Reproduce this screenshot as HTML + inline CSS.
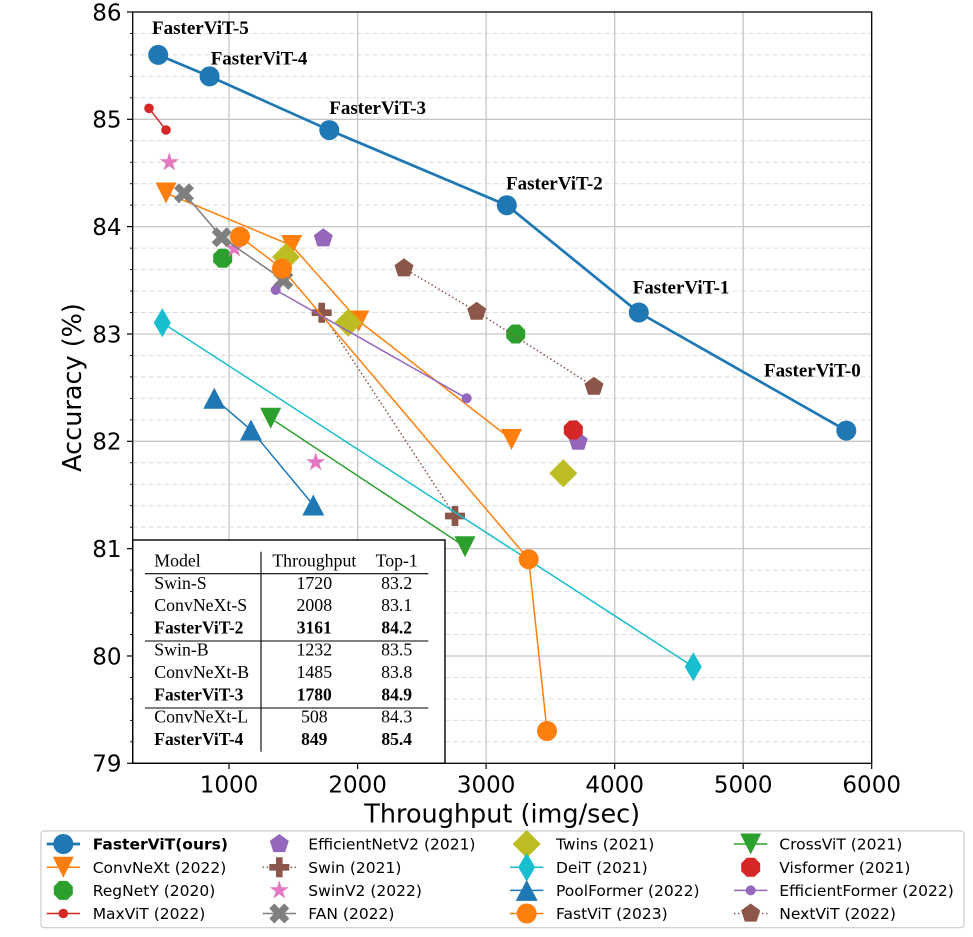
<!DOCTYPE html>
<html><head><meta charset="utf-8">
<style>
html,body{margin:0;padding:0;background:#fff;}
svg{display:block;}
.tk{font-family:"DejaVu Sans","Liberation Sans",sans-serif;font-size:23px;fill:#000;}
.lab{font-family:"DejaVu Sans","Liberation Sans",sans-serif;font-size:25.5px;fill:#000;}
.ann{font-family:"Liberation Serif","DejaVu Serif",serif;font-size:19px;font-weight:bold;fill:#000;}
.tb{font-family:"Liberation Serif","DejaVu Serif",serif;font-size:17.8px;fill:#000;}
.tbb{font-family:"Liberation Serif","DejaVu Serif",serif;font-size:17.5px;font-weight:bold;fill:#000;}
.lg{font-family:"DejaVu Sans","Liberation Sans",sans-serif;font-size:15.5px;fill:#000;}
</style></head>
<body>
<svg width="973" height="937" viewBox="0 0 973 937" xmlns="http://www.w3.org/2000/svg">
<rect x="0" y="0" width="973" height="937" fill="#fff"/>

<!-- minor y grid (dashed) -->
<g stroke="#dcdcdc" stroke-width="1" stroke-dasharray="5,3" fill="none">
<line x1="132.7" x2="871.7" y1="741.83" y2="741.83"/>
<line x1="132.7" x2="871.7" y1="720.37" y2="720.37"/>
<line x1="132.7" x2="871.7" y1="698.9" y2="698.9"/>
<line x1="132.7" x2="871.7" y1="677.44" y2="677.44"/>
<line x1="132.7" x2="871.7" y1="634.5" y2="634.5"/>
<line x1="132.7" x2="871.7" y1="613.04" y2="613.04"/>
<line x1="132.7" x2="871.7" y1="591.57" y2="591.57"/>
<line x1="132.7" x2="871.7" y1="570.11" y2="570.11"/>
<line x1="132.7" x2="871.7" y1="527.17" y2="527.17"/>
<line x1="132.7" x2="871.7" y1="505.71" y2="505.71"/>
<line x1="132.7" x2="871.7" y1="484.24" y2="484.24"/>
<line x1="132.7" x2="871.7" y1="462.78" y2="462.78"/>
<line x1="132.7" x2="871.7" y1="419.84" y2="419.84"/>
<line x1="132.7" x2="871.7" y1="398.38" y2="398.38"/>
<line x1="132.7" x2="871.7" y1="376.91" y2="376.91"/>
<line x1="132.7" x2="871.7" y1="355.45" y2="355.45"/>
<line x1="132.7" x2="871.7" y1="312.51" y2="312.51"/>
<line x1="132.7" x2="871.7" y1="291.05" y2="291.05"/>
<line x1="132.7" x2="871.7" y1="269.58" y2="269.58"/>
<line x1="132.7" x2="871.7" y1="248.12" y2="248.12"/>
<line x1="132.7" x2="871.7" y1="205.18" y2="205.18"/>
<line x1="132.7" x2="871.7" y1="183.72" y2="183.72"/>
<line x1="132.7" x2="871.7" y1="162.25" y2="162.25"/>
<line x1="132.7" x2="871.7" y1="140.79" y2="140.79"/>
<line x1="132.7" x2="871.7" y1="97.85" y2="97.85"/>
<line x1="132.7" x2="871.7" y1="76.39" y2="76.39"/>
<line x1="132.7" x2="871.7" y1="54.92" y2="54.92"/>
<line x1="132.7" x2="871.7" y1="33.46" y2="33.46"/>
</g>
<!-- major grid -->
<g stroke="#c6c6c6" stroke-width="1.3" fill="none">
<line x1="132.7" x2="871.7" y1="655.97" y2="655.97"/>
<line x1="132.7" x2="871.7" y1="548.64" y2="548.64"/>
<line x1="132.7" x2="871.7" y1="441.31" y2="441.31"/>
<line x1="132.7" x2="871.7" y1="333.98" y2="333.98"/>
<line x1="132.7" x2="871.7" y1="226.65" y2="226.65"/>
<line x1="132.7" x2="871.7" y1="119.32" y2="119.32"/>
<line x1="229.0" x2="229.0" y1="12" y2="763.3"/>
<line x1="357.6" x2="357.6" y1="12" y2="763.3"/>
<line x1="486.1" x2="486.1" y1="12" y2="763.3"/>
<line x1="614.7" x2="614.7" y1="12" y2="763.3"/>
<line x1="743.2" x2="743.2" y1="12" y2="763.3"/>
</g>

<!-- ===== Series ===== -->
<!-- FasterViT -->
<g>
<polyline points="158.2,54.9 209.6,76.4 329.3,130.1 506.8,205.2 638.8,312.5 846.3,430.6" fill="none" stroke="#1f77b4" stroke-width="2.7" stroke-linejoin="round"/>
<g fill="#1f77b4">
<circle cx="158.2" cy="54.9" r="10"/><circle cx="209.6" cy="76.4" r="10"/><circle cx="329.3" cy="130.1" r="10"/>
<circle cx="506.8" cy="205.2" r="10"/><circle cx="638.8" cy="312.5" r="10"/><circle cx="846.3" cy="430.6" r="10"/>
</g>
</g>
<!-- ConvNeXt -->
<g>
<polyline points="166,193 291.7,245.5 358.8,321 511.5,439.5" fill="none" stroke="#ff7f0e" stroke-width="1.5"/>
<g fill="#ff7f0e">
<polygon transform="translate(166,193)" points="0,10.5 -10.5,-10.5 10.5,-10.5"/>
<polygon transform="translate(291.7,245.5)" points="0,10.5 -10.5,-10.5 10.5,-10.5"/>
<polygon transform="translate(358.8,321)" points="0,10.5 -10.5,-10.5 10.5,-10.5"/>
<polygon transform="translate(511.5,439.5)" points="0,10.5 -10.5,-10.5 10.5,-10.5"/>
</g>
</g>
<!-- RegNetY -->
<g fill="#2ca02c">
<polygon transform="translate(222.7,258.3)" points="9.5,3.93 3.93,9.5 -3.93,9.5 -9.5,3.93 -9.5,-3.93 -3.93,-9.5 3.93,-9.5 9.5,-3.93"/>
<polygon transform="translate(515.7,334)" points="9.5,3.93 3.93,9.5 -3.93,9.5 -9.5,3.93 -9.5,-3.93 -3.93,-9.5 3.93,-9.5 9.5,-3.93"/>
</g>
<!-- MaxViT -->
<g>
<line x1="149" y1="108.3" x2="166" y2="130" stroke="#d62728" stroke-width="1.5"/>
<circle cx="149" cy="108.3" r="4.8" fill="#d62728"/><circle cx="166" cy="130" r="4.8" fill="#d62728"/>
</g>
<!-- EfficientNetV2 -->
<g fill="#9467bd">
<polygon transform="translate(323.3,238.3)" points="0,-10 9.51,-3.09 5.88,8.09 -5.88,8.09 -9.51,-3.09"/>
<polygon transform="translate(578.3,441.7)" points="0,-10 9.51,-3.09 5.88,8.09 -5.88,8.09 -9.51,-3.09"/>
</g>
<!-- Swin -->
<g>
<polyline points="321.7,312.7 455,516" fill="none" stroke="#8c564b" stroke-width="1.5" stroke-dasharray="1.5,2.5"/>
<g fill="#8c564b">
<polygon transform="translate(321.7,312.7)" points="-3.33,-10 3.33,-10 3.33,-3.33 10,-3.33 10,3.33 3.33,3.33 3.33,10 -3.33,10 -3.33,3.33 -10,3.33 -10,-3.33 -3.33,-3.33"/>
<polygon transform="translate(455,516)" points="-3.33,-10 3.33,-10 3.33,-3.33 10,-3.33 10,3.33 3.33,3.33 3.33,10 -3.33,10 -3.33,3.33 -10,3.33 -10,-3.33 -3.33,-3.33"/>
</g>
</g>
<!-- SwinV2 -->
<g fill="#e377c2">
<polygon transform="translate(169.3,162.3)" points="0,-10 2.245,-3.09 9.511,-3.09 3.633,1.18 5.878,8.09 0,3.82 -5.878,8.09 -3.633,1.18 -9.511,-3.09 -2.245,-3.09"/>
<polygon transform="translate(234.3,248.5)" points="0,-10 2.245,-3.09 9.511,-3.09 3.633,1.18 5.878,8.09 0,3.82 -5.878,8.09 -3.633,1.18 -9.511,-3.09 -2.245,-3.09"/>
<polygon transform="translate(315.7,462.3)" points="0,-10 2.245,-3.09 9.511,-3.09 3.633,1.18 5.878,8.09 0,3.82 -5.878,8.09 -3.633,1.18 -9.511,-3.09 -2.245,-3.09"/>
</g>
<!-- FAN -->
<g>
<polyline points="184,193.3 221.7,237.3 283.3,280" fill="none" stroke="#7f7f7f" stroke-width="1.5"/>
<g fill="#7f7f7f">
<polygon transform="translate(184,193.3)" points="0,-5 5,-10 10,-5 5,0 10,5 5,10 0,5 -5,10 -10,5 -5,0 -10,-5 -5,-10"/>
<polygon transform="translate(221.7,237.3)" points="0,-5 5,-10 10,-5 5,0 10,5 5,10 0,5 -5,10 -10,5 -5,0 -10,-5 -5,-10"/>
<polygon transform="translate(283.3,280)" points="0,-5 5,-10 10,-5 5,0 10,5 5,10 0,5 -5,10 -10,5 -5,0 -10,-5 -5,-10"/>
</g>
</g>
<!-- Twins -->
<g fill="#bcbd22">
<polygon transform="translate(286,257)" points="0,-14 14,0 0,14 -14,0"/>
<polygon transform="translate(348.3,322.7)" points="0,-14 14,0 0,14 -14,0"/>
<polygon transform="translate(563.3,473.3)" points="0,-14 14,0 0,14 -14,0"/>
</g>
<!-- DeiT -->
<g>
<line x1="162.3" y1="322.7" x2="693.3" y2="666.7" stroke="#17becf" stroke-width="1.5"/>
<g fill="#17becf">
<polygon transform="translate(162.3,322.7)" points="0,-14.5 8.5,0 0,14.5 -8.5,0"/>
<polygon transform="translate(693.3,666.7)" points="0,-14.5 8.5,0 0,14.5 -8.5,0"/>
</g>
</g>
<!-- PoolFormer -->
<g>
<polyline points="214.3,398.3 251,430 313.3,505" fill="none" stroke="#1f77b4" stroke-width="1.5"/>
<g fill="#1f77b4">
<polygon transform="translate(214.3,398.3)" points="0,-10.5 11,10.5 -11,10.5"/>
<polygon transform="translate(251,430)" points="0,-10.5 11,10.5 -11,10.5"/>
<polygon transform="translate(313.3,505)" points="0,-10.5 11,10.5 -11,10.5"/>
</g>
</g>
<!-- FastViT -->
<g>
<polyline points="240,236.7 282,268.5 528.7,559.3 547,731" fill="none" stroke="#ff7f0e" stroke-width="1.5"/>
<g fill="#ff7f0e">
<circle cx="240" cy="236.7" r="10"/><circle cx="282" cy="268.5" r="10"/>
<circle cx="528.7" cy="559.3" r="10"/><circle cx="547" cy="731" r="10"/>
</g>
</g>
<!-- CrossViT -->
<g>
<line x1="270.7" y1="418.3" x2="465" y2="546.7" stroke="#2ca02c" stroke-width="1.5"/>
<g fill="#2ca02c">
<polygon transform="translate(270.7,418.3)" points="0,10.5 -10.5,-10.5 10.5,-10.5"/>
<polygon transform="translate(465,546.7)" points="0,10.5 -10.5,-10.5 10.5,-10.5"/>
</g>
</g>
<!-- Visformer -->
<polygon fill="#d62728" transform="translate(573.3,430)" points="9.5,3.93 3.93,9.5 -3.93,9.5 -9.5,3.93 -9.5,-3.93 -3.93,-9.5 3.93,-9.5 9.5,-3.93"/>
<!-- EfficientFormer -->
<g>
<line x1="275.7" y1="290" x2="466.7" y2="398.3" stroke="#9467bd" stroke-width="1.5"/>
<circle cx="275.7" cy="290" r="5" fill="#9467bd"/><circle cx="466.7" cy="398.3" r="5" fill="#9467bd"/>
</g>
<!-- NextViT -->
<g>
<polyline points="404,268.3 476.7,311.7 594,386.7" fill="none" stroke="#8c564b" stroke-width="1.5" stroke-dasharray="1.5,2.5"/>
<g fill="#8c564b">
<polygon transform="translate(404,268.3)" points="0,-10 9.51,-3.09 5.88,8.09 -5.88,8.09 -9.51,-3.09"/>
<polygon transform="translate(476.7,311.7)" points="0,-10 9.51,-3.09 5.88,8.09 -5.88,8.09 -9.51,-3.09"/>
<polygon transform="translate(594,386.7)" points="0,-10 9.51,-3.09 5.88,8.09 -5.88,8.09 -9.51,-3.09"/>
</g>
</g>

<!-- annotations -->
<text class="ann" x="152" y="34">FasterViT-5</text>
<text class="ann" x="210.7" y="64.3">FasterViT-4</text>
<text class="ann" x="329.3" y="114">FasterViT-3</text>
<text class="ann" x="506" y="189.3">FasterViT-2</text>
<text class="ann" x="632.7" y="293.3">FasterViT-1</text>
<text class="ann" x="764" y="376.7">FasterViT-0</text>

<!-- inset table -->
<rect x="132.7" y="540" width="312.3" height="223.3" fill="#fff" stroke="#000" stroke-width="1.4"/>
<g stroke="#000" stroke-width="1.1">
<line x1="145" x2="428.3" y1="573.7" y2="573.7"/>
<line x1="145" x2="428.3" y1="641" y2="641"/>
<line x1="145" x2="428.3" y1="708" y2="708"/>
<line x1="261" x2="261" y1="551.7" y2="751.7"/>
</g>
<text class="tb" x="154.3" y="566.5">Model</text>
<text class="tb" x="314.3" y="566.5" text-anchor="middle">Throughput</text>
<text class="tb" x="396.7" y="566.5" text-anchor="middle">Top-1</text>

<text class="tb" x="154.3" y="588.8">Swin-S</text>
<text class="tb" x="314.3" y="588.8" text-anchor="middle">1720</text>
<text class="tb" x="396.7" y="588.8" text-anchor="middle">83.2</text>
<text class="tb" x="154.3" y="611.1">ConvNeXt-S</text>
<text class="tb" x="314.3" y="611.1" text-anchor="middle">2008</text>
<text class="tb" x="396.7" y="611.1" text-anchor="middle">83.1</text>
<text class="tbb" x="154.3" y="633.4">FasterViT-2</text>
<text class="tbb" x="314.3" y="633.4" text-anchor="middle">3161</text>
<text class="tbb" x="396.7" y="633.4" text-anchor="middle">84.2</text>

<text class="tb" x="154.3" y="655.7">Swin-B</text>
<text class="tb" x="314.3" y="655.7" text-anchor="middle">1232</text>
<text class="tb" x="396.7" y="655.7" text-anchor="middle">83.5</text>
<text class="tb" x="154.3" y="678">ConvNeXt-B</text>
<text class="tb" x="314.3" y="678" text-anchor="middle">1485</text>
<text class="tb" x="396.7" y="678" text-anchor="middle">83.8</text>
<text class="tbb" x="154.3" y="700.3">FasterViT-3</text>
<text class="tbb" x="314.3" y="700.3" text-anchor="middle">1780</text>
<text class="tbb" x="396.7" y="700.3" text-anchor="middle">84.9</text>

<text class="tb" x="154.3" y="722.6">ConvNeXt-L</text>
<text class="tb" x="314.3" y="722.6" text-anchor="middle">508</text>
<text class="tb" x="396.7" y="722.6" text-anchor="middle">84.3</text>
<text class="tbb" x="154.3" y="744.9">FasterViT-4</text>
<text class="tbb" x="314.3" y="744.9" text-anchor="middle">849</text>
<text class="tbb" x="396.7" y="744.9" text-anchor="middle">85.4</text>

<!-- spines -->
<rect x="132.7" y="12" width="739" height="751.3" fill="none" stroke="#000" stroke-width="1.3"/>

<!-- y ticks -->
<g stroke="#000" stroke-width="1.2">
<line x1="127" x2="132.7" y1="763.3" y2="763.3"/>
<line x1="127" x2="132.7" y1="655.97" y2="655.97"/>
<line x1="127" x2="132.7" y1="548.64" y2="548.64"/>
<line x1="127" x2="132.7" y1="441.31" y2="441.31"/>
<line x1="127" x2="132.7" y1="333.98" y2="333.98"/>
<line x1="127" x2="132.7" y1="226.65" y2="226.65"/>
<line x1="127" x2="132.7" y1="119.32" y2="119.32"/>
<line x1="127" x2="132.7" y1="12" y2="12"/>
</g>
<g stroke="#000" stroke-width="0.9">
<line x1="130" x2="132.7" y1="741.83" y2="741.83"/><line x1="130" x2="132.7" y1="720.37" y2="720.37"/><line x1="130" x2="132.7" y1="698.9" y2="698.9"/><line x1="130" x2="132.7" y1="677.44" y2="677.44"/>
<line x1="130" x2="132.7" y1="634.5" y2="634.5"/><line x1="130" x2="132.7" y1="613.04" y2="613.04"/><line x1="130" x2="132.7" y1="591.57" y2="591.57"/><line x1="130" x2="132.7" y1="570.11" y2="570.11"/>
<line x1="130" x2="132.7" y1="527.17" y2="527.17"/><line x1="130" x2="132.7" y1="505.71" y2="505.71"/><line x1="130" x2="132.7" y1="484.24" y2="484.24"/><line x1="130" x2="132.7" y1="462.78" y2="462.78"/>
<line x1="130" x2="132.7" y1="419.84" y2="419.84"/><line x1="130" x2="132.7" y1="398.38" y2="398.38"/><line x1="130" x2="132.7" y1="376.91" y2="376.91"/><line x1="130" x2="132.7" y1="355.45" y2="355.45"/>
<line x1="130" x2="132.7" y1="312.51" y2="312.51"/><line x1="130" x2="132.7" y1="291.05" y2="291.05"/><line x1="130" x2="132.7" y1="269.58" y2="269.58"/><line x1="130" x2="132.7" y1="248.12" y2="248.12"/>
<line x1="130" x2="132.7" y1="205.18" y2="205.18"/><line x1="130" x2="132.7" y1="183.72" y2="183.72"/><line x1="130" x2="132.7" y1="162.25" y2="162.25"/><line x1="130" x2="132.7" y1="140.79" y2="140.79"/>
<line x1="130" x2="132.7" y1="97.85" y2="97.85"/><line x1="130" x2="132.7" y1="76.39" y2="76.39"/><line x1="130" x2="132.7" y1="54.92" y2="54.92"/><line x1="130" x2="132.7" y1="33.46" y2="33.46"/>
</g>
<!-- x ticks -->
<g stroke="#000" stroke-width="1.2">
<line x1="229.0" x2="229.0" y1="763.3" y2="769"/>
<line x1="357.6" x2="357.6" y1="763.3" y2="769"/>
<line x1="486.1" x2="486.1" y1="763.3" y2="769"/>
<line x1="614.7" x2="614.7" y1="763.3" y2="769"/>
<line x1="743.2" x2="743.2" y1="763.3" y2="769"/>
<line x1="871.7" x2="871.7" y1="763.3" y2="769"/>
</g>

<!-- y tick labels -->
<text class="tk" x="121.5" y="771.7" text-anchor="end">79</text>
<text class="tk" x="121.5" y="664.4" text-anchor="end">80</text>
<text class="tk" x="121.5" y="557.0" text-anchor="end">81</text>
<text class="tk" x="121.5" y="449.7" text-anchor="end">82</text>
<text class="tk" x="121.5" y="342.4" text-anchor="end">83</text>
<text class="tk" x="121.5" y="235.1" text-anchor="end">84</text>
<text class="tk" x="121.5" y="127.7" text-anchor="end">85</text>
<text class="tk" x="121.5" y="20.4" text-anchor="end">86</text>
<!-- x tick labels -->
<text class="tk" x="229.0" y="792.5" text-anchor="middle">1000</text>
<text class="tk" x="357.6" y="792.5" text-anchor="middle">2000</text>
<text class="tk" x="486.1" y="792.5" text-anchor="middle">3000</text>
<text class="tk" x="614.7" y="792.5" text-anchor="middle">4000</text>
<text class="tk" x="743.2" y="792.5" text-anchor="middle">5000</text>
<text class="tk" x="871.7" y="792.5" text-anchor="middle">6000</text>

<!-- axis labels -->
<text class="lab" x="502.2" y="822.7" text-anchor="middle">Throughput (img/sec)</text>
<text class="lab" transform="translate(81,387.5) rotate(-90)" text-anchor="middle">Accuracy (%)</text>

<!-- legend -->
<rect x="41" y="831" width="923" height="96.7" rx="3" ry="3" fill="#fff" stroke="#cccccc" stroke-width="1.2"/>
<!-- col 1 -->
<line x1="46.7" x2="80" y1="844" y2="844" stroke="#1f77b4" stroke-width="2.7"/>
<circle cx="63.3" cy="844" r="10" fill="#1f77b4"/>
<text class="lg" x="92.7" y="849.5" font-weight="bold">FasterViT(ours)</text>

<line x1="46.7" x2="80" y1="867.3" y2="867.3" stroke="#ff7f0e" stroke-width="1.5"/>
<polygon transform="translate(63.3,867.3)" fill="#ff7f0e" points="0,10.5 -10.5,-10.5 10.5,-10.5"/>
<text class="lg" x="92.7" y="872.8">ConvNeXt (2022)</text>

<polygon transform="translate(63.3,890.4)" fill="#2ca02c" points="9.5,3.93 3.93,9.5 -3.93,9.5 -9.5,3.93 -9.5,-3.93 -3.93,-9.5 3.93,-9.5 9.5,-3.93"/>
<text class="lg" x="92.7" y="895.9">RegNetY (2020)</text>

<line x1="46.7" x2="80" y1="913.5" y2="913.5" stroke="#d62728" stroke-width="1.5"/>
<circle cx="63.3" cy="913.5" r="4.8" fill="#d62728"/>
<text class="lg" x="92.7" y="919">MaxViT (2022)</text>

<!-- col 2 -->
<polygon transform="translate(279.3,844)" fill="#9467bd" points="0,-10 9.51,-3.09 5.88,8.09 -5.88,8.09 -9.51,-3.09"/>
<text class="lg" x="308.3" y="849.5">EfficientNetV2 (2021)</text>

<line x1="262.6" x2="296" y1="867.3" y2="867.3" stroke="#8c564b" stroke-width="1.5" stroke-dasharray="1.5,2.5"/>
<polygon transform="translate(279.3,867.3)" fill="#8c564b" points="-3.33,-10 3.33,-10 3.33,-3.33 10,-3.33 10,3.33 3.33,3.33 3.33,10 -3.33,10 -3.33,3.33 -10,3.33 -10,-3.33 -3.33,-3.33"/>
<text class="lg" x="308.3" y="872.8">Swin (2021)</text>

<polygon transform="translate(279.3,890.4)" fill="#e377c2" points="0,-10 2.245,-3.09 9.511,-3.09 3.633,1.18 5.878,8.09 0,3.82 -5.878,8.09 -3.633,1.18 -9.511,-3.09 -2.245,-3.09"/>
<text class="lg" x="308.3" y="895.9">SwinV2 (2022)</text>

<line x1="262.6" x2="296" y1="913.5" y2="913.5" stroke="#7f7f7f" stroke-width="1.5"/>
<polygon transform="translate(279.3,913.5)" fill="#7f7f7f" points="0,-5 5,-10 10,-5 5,0 10,5 5,10 0,5 -5,10 -10,5 -5,0 -10,-5 -5,-10"/>
<text class="lg" x="308.3" y="919">FAN (2022)</text>

<!-- col 3 -->
<polygon transform="translate(526.7,844)" fill="#bcbd22" points="0,-14 14,0 0,14 -14,0"/>
<text class="lg" x="556" y="849.5">Twins (2021)</text>

<line x1="510" x2="543.4" y1="867.3" y2="867.3" stroke="#17becf" stroke-width="1.5"/>
<polygon transform="translate(526.7,867.3)" fill="#17becf" points="0,-14.5 8.5,0 0,14.5 -8.5,0"/>
<text class="lg" x="556" y="872.8">DeiT (2021)</text>

<line x1="510" x2="543.4" y1="890.4" y2="890.4" stroke="#1f77b4" stroke-width="1.5"/>
<polygon transform="translate(526.7,890.4)" fill="#1f77b4" points="0,-10.5 11,10.5 -11,10.5"/>
<text class="lg" x="556" y="895.9">PoolFormer (2022)</text>

<line x1="510" x2="543.4" y1="913.5" y2="913.5" stroke="#ff7f0e" stroke-width="1.5"/>
<circle cx="526.7" cy="913.5" r="10" fill="#ff7f0e"/>
<text class="lg" x="556" y="919">FastViT (2023)</text>

<!-- col 4 -->
<line x1="734" x2="767.4" y1="844" y2="844" stroke="#2ca02c" stroke-width="1.5"/>
<polygon transform="translate(750.7,844)" fill="#2ca02c" points="0,10.5 -10.5,-10.5 10.5,-10.5"/>
<text class="lg" x="779.3" y="849.5">CrossViT (2021)</text>

<polygon transform="translate(750.7,867.3)" fill="#d62728" points="9.5,3.93 3.93,9.5 -3.93,9.5 -9.5,3.93 -9.5,-3.93 -3.93,-9.5 3.93,-9.5 9.5,-3.93"/>
<text class="lg" x="779.3" y="872.8">Visformer (2021)</text>

<line x1="734" x2="767.4" y1="890.4" y2="890.4" stroke="#9467bd" stroke-width="1.5"/>
<circle cx="750.7" cy="890.4" r="5" fill="#9467bd"/>
<text class="lg" x="779.3" y="895.9">EfficientFormer (2022)</text>

<line x1="734" x2="767.4" y1="913.5" y2="913.5" stroke="#8c564b" stroke-width="1.5" stroke-dasharray="1.5,2.5"/>
<polygon transform="translate(750.7,913.5)" fill="#8c564b" points="0,-10 9.51,-3.09 5.88,8.09 -5.88,8.09 -9.51,-3.09"/>
<text class="lg" x="779.3" y="919">NextViT (2022)</text>
</svg>
</body></html>
